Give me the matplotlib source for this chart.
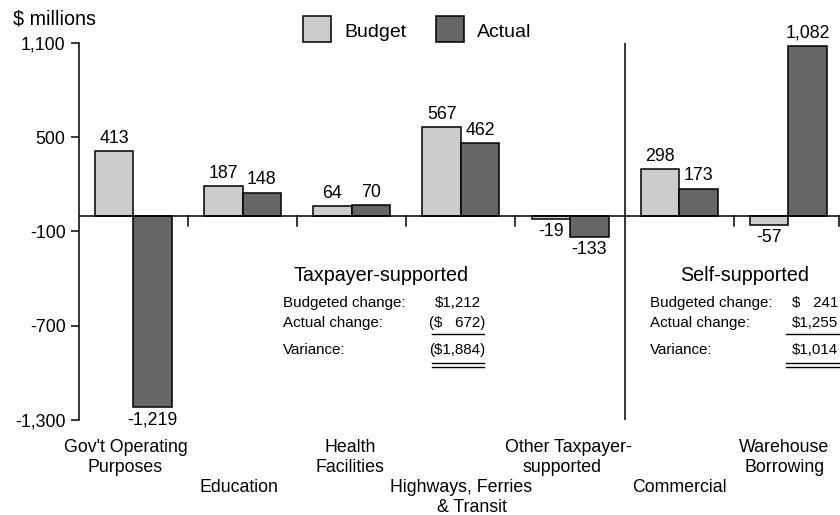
import matplotlib
matplotlib.use("Agg")
import matplotlib.pyplot as plt
import matplotlib.transforms as mtransforms
from matplotlib.patches import Rectangle
import numpy as np

plt.rcParams['font.family'] = ['Liberation Sans', 'DejaVu Sans']

# ---- data ($ millions) ----
categories = ["Gov't Operating\nPurposes", "Education", "Health\nFacilities",
              "Highways, Ferries\n& Transit", "Other Taxpayer-\nsupported",
              "Commercial", "Warehouse\nBorrowing"]
label_row = [0, 1, 0, 1, 0, 1, 0]          # staggered category labels
budget = [413, 187, 64, 567, -19, 298, -57]
actual = [-1219, 148, 70, 462, -133, 173, 1082]
yticks = [-1300, -700, -100, 500, 1100]
ytick_labels = ["-1,300", "-700", "-100", "500", "1,100"]

tax_summary = [("Budgeted change:", "$1,212"), ("Actual change:", "($   672)"),
               ("Variance:", "($1,884)")]
self_summary = [("Budgeted change:", "$   241"), ("Actual change:", "$1,255"),
                ("Variance:", "$1,014")]

BUDGET_C = "#cccccc"
ACTUAL_C = "#666666"
LW = 1.1

W, H = 840, 515
fig = plt.figure(figsize=(W / 100, H / 100), dpi=100)

# overlay in pixel coordinates for free-standing annotations
ov = fig.add_axes([0, 0, 1, 1])
ov.set_xlim(0, W)
ov.set_ylim(H, 0)
ov.axis("off")

# main axes
left_px, right_px, top_px, bot_px = 78.8, 840, 43, 420
cat_w = 109.17
xmax = (right_px - left_px) / cat_w
ax = fig.add_axes([left_px / W, (H - bot_px) / H,
                   (right_px - left_px) / W, (bot_px - top_px) / H])
ax.patch.set_alpha(0)
ax.set_xlim(0, xmax)
ax.set_ylim(-1300, 1100)

x = np.arange(len(categories)) + 0.5
bw = 0.353
ax.bar(x - bw / 2, budget, bw, color=BUDGET_C, edgecolor="black", linewidth=LW, zorder=3)
ax.bar(x + bw / 2, actual, bw, color=ACTUAL_C, edgecolor="black", linewidth=LW, zorder=3)

fs_val = 12.8
for xs, vals in ((x - bw / 2, budget), (x + bw / 2, actual)):
    for xi, v in zip(xs, vals):
        txt = f"{v:,}"
        if v >= 0:
            ax.annotate(txt, (xi, v), xytext=(0, 3), textcoords="offset points",
                        ha="center", va="bottom", fontsize=fs_val, annotation_clip=False)
        else:
            ax.annotate(txt, (xi, v), xytext=(0, -3), textcoords="offset points",
                        ha="center", va="top", fontsize=fs_val, annotation_clip=False)

# zero line and category separators
ax.axhline(0, color="black", linewidth=LW, zorder=4)
tick_len = 10 * 2400 / (bot_px - top_px)
for b in [1, 2, 3, 4, 6, xmax - 0.01]:
    ax.plot([b, b], [0, -tick_len], color="black", linewidth=LW, zorder=4)
ax.plot([5, 5], [-1300, 1100], color="black", linewidth=LW, zorder=4)

# y axis
for s in ["top", "right", "bottom"]:
    ax.spines[s].set_visible(False)
ax.spines["left"].set_linewidth(LW)
ax.set_yticks(yticks)
ax.set_yticklabels(ytick_labels, fontsize=fs_val)
ax.tick_params(axis="y", direction="out", length=6, width=LW, pad=3.5)
ax.set_xticks([])

# category labels, staggered in two rows, one text per line
# (small horizontal nudges in pixels, per line)
line_dx = [[-8, -8], [-4], [-2, -2], [0, 11], [-2, -8], [0], [-4, -4]]
lab_tr = mtransforms.blended_transform_factory(ax.transData, ov.transData)
row_base = [452.5, 492.5]
line_step = 20
for xi, lab, r, dxs in zip(x, categories, label_row, line_dx):
    for k, (line, dx) in enumerate(zip(lab.split("\n"), dxs)):
        tr = lab_tr + mtransforms.ScaledTranslation(dx / 100, 0, fig.dpi_scale_trans)
        ax.text(xi, row_base[r] + k * line_step, line, transform=tr,
                ha="center", va="baseline", fontsize=fs_val, clip_on=False)

# unit label
ov.text(13, 24, "$ millions", fontsize=14.2, ha="left", va="baseline")

# legend
for (sx, name, col) in ((303, "Budget", BUDGET_C), (436, "Actual", ACTUAL_C)):
    ov.add_patch(Rectangle((sx, 16), 28, 26, facecolor=col, edgecolor="black", linewidth=LW))
    ov.text(sx + 41, 36.7, name, fontsize=14, ha="left", va="baseline")


def summary(title, title_cx, label_x, val_right, line_x0, line_x1, rows):
    ov.text(title_cx, 280.7, title, fontsize=14.2, ha="center", va="baseline")
    for (lab, val), yb in zip(rows, [307.3, 327.3, 354.3]):
        ov.text(label_x, yb, lab, fontsize=10.9, ha="left", va="baseline")
        vr = val_right + (4.5 if val.endswith(")") else 0)
        ov.text(vr, yb, val, fontsize=10.9, ha="right", va="baseline")
    ov.plot([line_x0, line_x1], [334.3, 334.3], color="black", linewidth=1.0)
    ov.plot([line_x0, line_x1], [363.3, 363.3], color="black", linewidth=1.0)
    ov.plot([line_x0, line_x1], [366.8, 366.8], color="black", linewidth=1.0)


summary("Taxpayer-supported", 381.5, 283, 481, 432, 484, tax_summary)
summary("Self-supported", 745, 650, 838, 786, 840, self_summary)

fig.savefig("out.png", dpi=100)
